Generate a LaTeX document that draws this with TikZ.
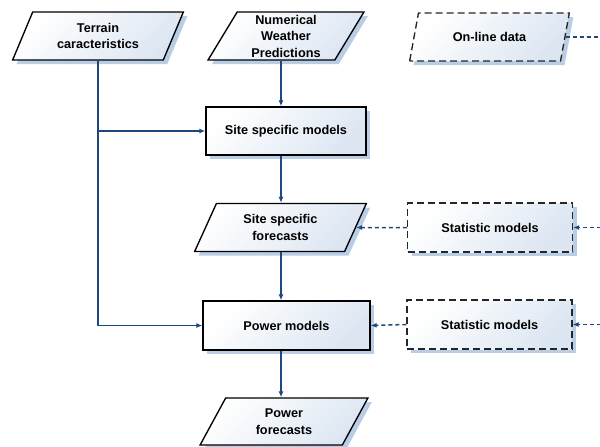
\documentclass[tikz,border=0pt]{standalone}
\usepackage{fontspec}
\setmainfont{Liberation Sans}
\usetikzlibrary{shapes.geometric,shadows,arrows.meta}
\definecolor{linkblue}{HTML}{1F497D}
\definecolor{shadeblue}{HTML}{B9CDE5}
\definecolor{fillblue}{HTML}{DCE6F2}
\begin{document}
\begin{tikzpicture}[x=1pt,y=-1pt,
  every node/.style={font=\fontsize{12.7}{16.5}\selectfont\bfseries, align=center, text=black},
  boxbase/.style={draw=black, line width=1.35pt, top color=white, bottom color=fillblue,
    shading angle=45, inner sep=0pt,
    drop shadow={shadow xshift=4pt, shadow yshift=-4pt, fill=shadeblue, opacity=1}},
  procbox/.style={boxbase, rectangle, minimum width=#1, minimum height=48pt},
  databox/.style={boxbase, trapezium, trapezium left angle=64, trapezium right angle=116,
    trapezium stretches=true, minimum width=#1, minimum height=48pt},
  extern/.style={dash pattern=on 7pt off 4pt, draw=black!85},
  link/.style={draw=linkblue, line width=1.5pt},
  arrowlink/.style={link, -{Latex[length=6pt,width=5pt]}},
  feed/.style={arrowlink, dash pattern=on 4pt off 3pt},
  feedline/.style={link, dash pattern=on 4pt off 3pt},
]
\useasboundingbox (0,0) rectangle (600,447);

% inputs
\node[databox=171] (terrain) at (98,36) {Terrain\\caracteristics};
\node[databox=156] (nwp) at (286,36) {Numerical\\Weather\\Predictions};
\node[databox=160, extern] (online) at (489.5,37) {On-line data};

% main chain
\node[procbox=160] (site) at (286,131) {Site specific models};
\node[databox=173] (fc) at (280.5,227.5) {Site specific\\forecasts};
\node[procbox=167, minimum height=49pt] (power) at (286.5,325.5) {Power models};
\node[databox=168, minimum height=47pt] (pf) at (284,421.5) {Power\\forecasts};

% statistical correction
\node[procbox=165, minimum height=49pt, extern] (stat1) at (490,227.5) {Statistic models};
\node[procbox=165, minimum height=49pt, extern] (stat2) at (489.5,324.5) {Statistic models};

% connectors
\coordinate (spine) at (281,0);
\coordinate (rail) at (608,0);
\draw[arrowlink] (nwp.south -| spine) -- (site.north -| spine);
\draw[arrowlink] (site.south -| spine) -- (fc.north -| spine);
\draw[arrowlink] (fc.south -| spine) -- (power.north -| spine);
\draw[arrowlink] (power.south -| spine) -- (pf.north -| spine);

\draw[arrowlink] (terrain.center |- terrain.south) |- (power.west);
\draw[arrowlink] (terrain.center |- site.west) -- (site.west);

\draw[feed] (stat1.west) -- (fc.east);
\draw[feed] (stat2.west) -- (power.east);

\draw[feedline] (online.east) -- (online.east -| rail) -- (rail |- stat2.east);
\draw[feed] (rail |- stat1.east) -- (stat1.east);
\draw[feed] (rail |- stat2.east) -- (stat2.east);
\end{tikzpicture}
\end{document}
